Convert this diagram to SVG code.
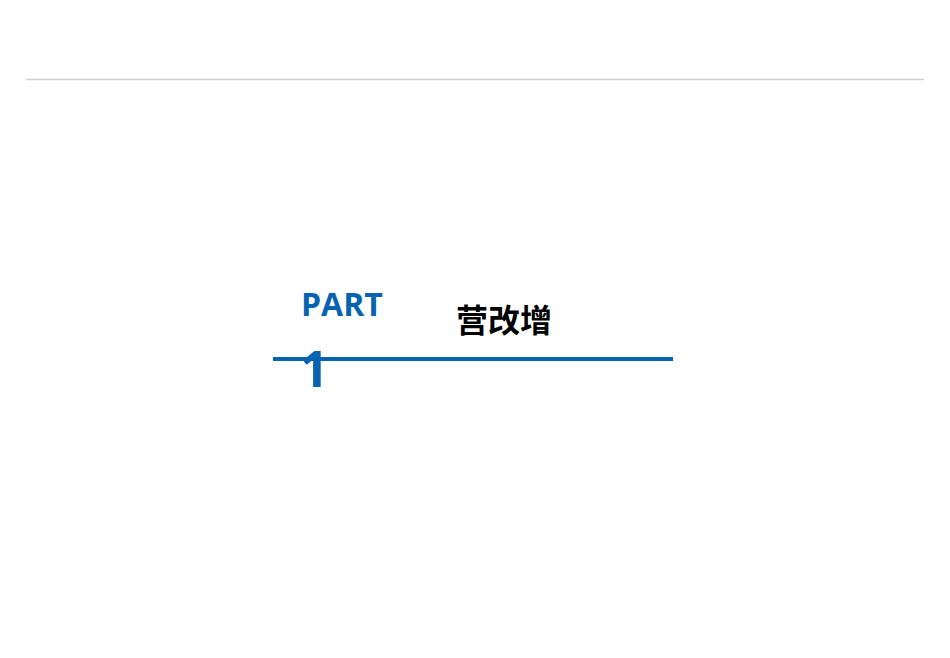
<svg xmlns="http://www.w3.org/2000/svg" width="950" height="658" viewBox="0 0 950 658">
<style>.b{fill:#0563B0;font-family:"Open Sans","Noto Sans",sans-serif;font-weight:bold}</style>
<rect width="950" height="658" fill="#fff"/>
<line x1="26" y1="79.5" x2="924" y2="79.5" stroke="#cfcfcf" stroke-width="1.5"/>
<g id="title">
<text class="b" x="301" y="316" font-size="32">PART</text>
<text class="b" x="300" y="387" font-size="50">1</text>
<line x1="273" y1="359" x2="673" y2="359" stroke="#0563B0" stroke-width="4"/>
<text x="456" y="332" font-size="32" font-weight="bold" font-family="'Noto Sans CJK SC',sans-serif" fill="#000">营改增</text>
</g>
</svg>
